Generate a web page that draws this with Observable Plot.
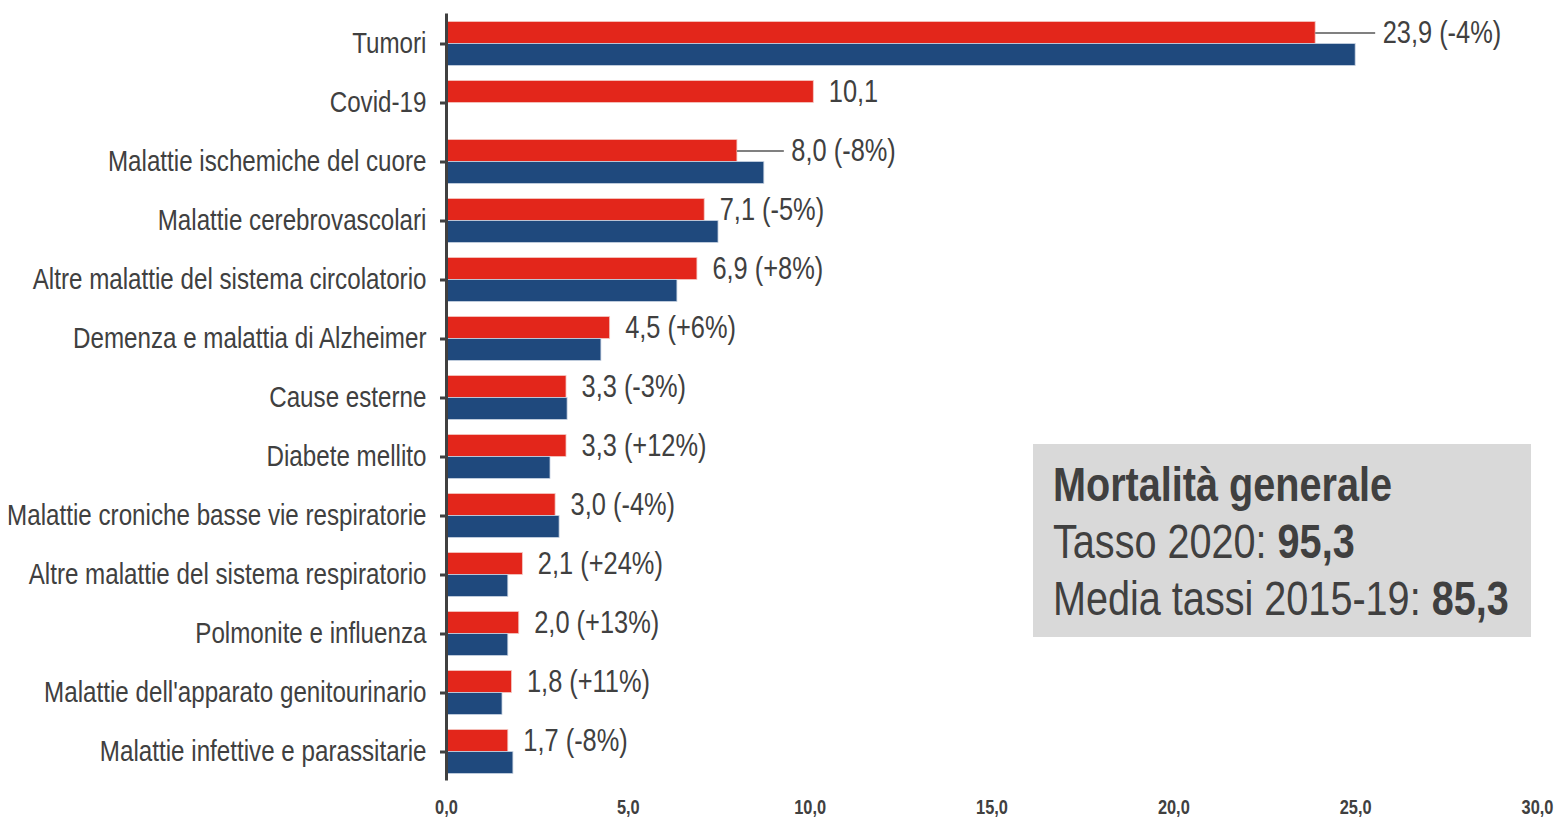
<!DOCTYPE html>
<html>
<head>
<meta charset="utf-8">
<script src="https://cdn.jsdelivr.net/npm/d3@7"></script>
<script src="https://cdn.jsdelivr.net/npm/@observablehq/plot@0.6"></script>
<style>
  html, body { margin: 0; padding: 0; background: #fff; }
  #wrap { position: relative; width: 1558px; height: 818px; font-family: "Liberation Sans", Arial, sans-serif; }
  #box { position: absolute; left: 1033px; top: 444px; width: 498px; height: 193px; background: #d9d9d9; color: #404040; box-sizing: border-box; padding: 12px 0 0 20px; font-size: 48.3px; line-height: 57px; }
  #box .ln { white-space: nowrap; transform: scaleX(0.82); transform-origin: 0 0; }
</style>
</head>
<body>
<div id="wrap"></div>
<script>
const categories = [
  "Tumori", "Covid-19", "Malattie ischemiche del cuore", "Malattie cerebrovascolari",
  "Altre malattie del sistema circolatorio", "Demenza e malattia di Alzheimer",
  "Cause esterne", "Diabete mellito", "Malattie croniche basse vie respiratorie",
  "Altre malattie del sistema respiratorio", "Polmonite e influenza",
  "Malattie dell'apparato genitourinario", "Malattie infettive e parassitarie"
];
const rate2020 = [23.9, 10.1, 8.0, 7.1, 6.9, 4.5, 3.3, 3.3, 3.0, 2.1, 2.0, 1.8, 1.7];
const mean2015_19 = [25.0, null, 8.74, 7.48, 6.35, 4.26, 3.33, 2.86, 3.11, 1.70, 1.70, 1.54, 1.84];
const change = ["-4%", null, "-8%", "-5%", "+8%", "+6%", "-3%", "+12%", "-4%", "+24%", "+13%", "+11%", "-8%"];
const leaderCats = ["Tumori", "Malattie ischemiche del cuore"];
const xTicks = [0, 5, 10, 15, 20, 25, 30];
const summary = { title: "Mortalità generale", rate2020: "95,3", mean: "85,3" };

const fmt = v => v.toFixed(1).replace(".", ",");
const rows = categories.map((c, i) => ({
  cat: c, red: rate2020[i], blue: mean2015_19[i], chg: change[i],
  leader: leaderCats.includes(c),
  label: fmt(rate2020[i]) + (change[i] ? " (" + change[i] + ")" : "")
}));
const blueRows = rows.filter(d => d.blue != null);

const RED = "#e3261b", BLUE = "#1f497d", INK = "#404040";
const NARROW = 0.82;

const chart = Plot.plot({
  width: 1558, height: 818,
  marginLeft: 446, marginRight: 21, marginTop: 13.5, marginBottom: 37.5,
  style: { fontFamily: '"Liberation Sans", Arial, sans-serif', color: INK, background: "transparent" },
  x: { domain: [0, 30] },
  y: { domain: categories, padding: 0 },
  marks: [
    Plot.barX(rows, { x: "red", y: "cat", fill: RED, stroke: "#f4c7c3", strokeWidth: 0.8, insetTop: 7.5, insetBottom: 29.5 }),
    Plot.barX(blueRows, { x: "blue", y: "cat", fill: BLUE, stroke: "#c9d4e3", strokeWidth: 0.8, insetTop: 29.5, insetBottom: 7.5 }),
    Plot.ruleY(rows.filter(d => d.leader), { y: "cat", x1: "red", x2: "blue", dy: -11, insetRight: -20, stroke: "#808080", strokeWidth: 2 }),
    Plot.text(rows.filter(d => !d.leader), { x: "red", y: "cat", text: "label", dy: -11, dx: 15, textAnchor: "start", fontSize: 31, fill: INK }),
    Plot.text(rows.filter(d => d.leader), { x: "blue", y: "cat", text: "label", dy: -11, dx: 27, textAnchor: "start", fontSize: 31, fill: INK }),
    Plot.ruleX([0], { stroke: INK, strokeWidth: 3 }),
    Plot.axisY({ tickSize: 6, tickPadding: 14, fontSize: 29.5, stroke: INK, strokeWidth: 3, fill: INK, label: null }),
    Plot.axisX({ ticks: xTicks, tickSize: 0, tickPadding: 19, tickFormat: fmt, fontSize: 20, fontWeight: "bold", fill: INK, label: null })
  ]
});

// emulate a narrow typeface (Arial Narrow) by compressing text horizontally around its anchor
chart.querySelectorAll("text").forEach(t => {
  const tr = t.getAttribute("transform");
  if (tr) {
    t.setAttribute("transform", tr + ` scale(${NARROW},1)`);
  } else {
    const x = +(t.getAttribute("x") || 0), y = +(t.getAttribute("y") || 0);
    t.removeAttribute("x"); t.removeAttribute("y");
    t.setAttribute("transform", `translate(${x},${y}) scale(${NARROW},1)`);
  }
});
chart.querySelectorAll('g[aria-label="x-axis tick label"] text').forEach(t => t.setAttribute("font-weight", "bold"));

const wrap = document.getElementById("wrap");
wrap.appendChild(chart);

const box = document.createElement("div");
box.id = "box";
box.innerHTML = `<div class="ln"><b>${summary.title}</b></div><div class="ln">Tasso 2020: <b>${summary.rate2020}</b></div><div class="ln">Media tassi 2015-19: <b>${summary.mean}</b></div>`;
wrap.appendChild(box);
</script>
</body>
</html>
